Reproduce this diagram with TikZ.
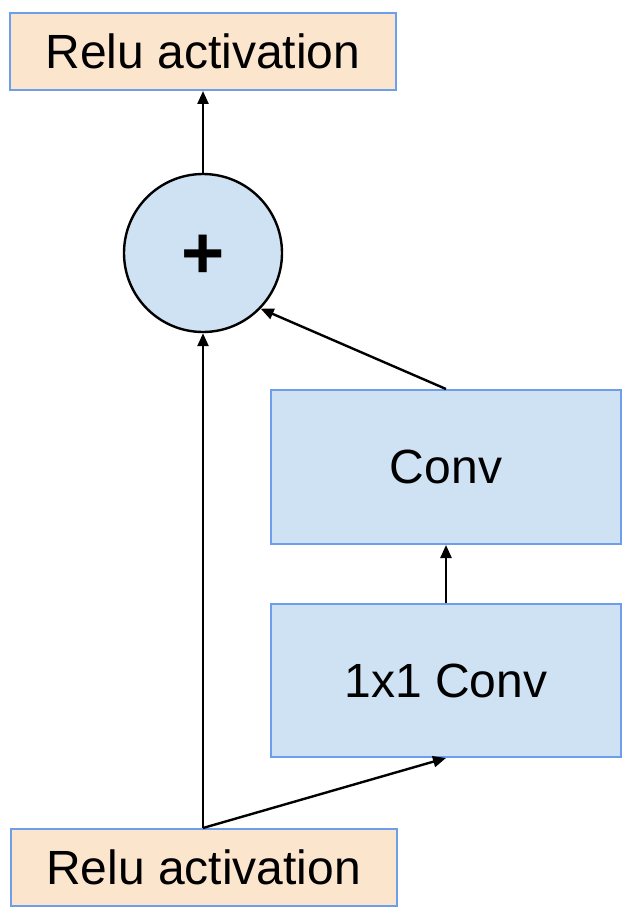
\documentclass[tikz,border=0pt]{standalone}
\usepackage{fontspec}
\setmainfont{Liberation Sans}
\usetikzlibrary{arrows.meta}
\definecolor{boxborder}{HTML}{6D9EEB}
\definecolor{orangefill}{HTML}{FCE5CD}
\definecolor{bluefill}{HTML}{CFE2F3}
\begin{document}
\begin{tikzpicture}[x=1pt,y=-1pt,
  relubox/.style={draw=boxborder,fill=orangefill,line width=2pt,minimum width=386pt,minimum height=77pt,inner sep=0pt,font=\fontsize{48}{56}\selectfont},
  convbox/.style={draw=boxborder,fill=bluefill,line width=2pt,minimum width=350pt,minimum height=154pt,inner sep=0pt,font=\fontsize{48}{56}\selectfont},
  addnode/.style={circle,draw=black,fill=bluefill,line width=2.4pt,minimum size=158pt,inner sep=0pt,font=\bfseries\fontsize{74}{80}\selectfont},
  conn/.style={line width=2.4pt,-{Triangle[length=13pt,width=11pt]}}]
\useasboundingbox (0,0) rectangle (638,923);
\node[relubox] (top) at (203,51.5) {Relu activation};
\node[relubox] (bottom) at (203.5,867.5) {Relu activation};
\node[addnode] (plus) at (203,253) {\raisebox{-4pt}[\height][\depth]{+}};
\node[convbox] (conv) at (446,467) {Conv};
\node[convbox,minimum height=153pt] (conv1) at (446,680.5) {1x1 Conv};
\draw[conn] (plus.north) -- (top.south);
\draw[conn] (bottom.north -| plus.south) -- (plus.south);
\draw[conn] (conv.north) -- (plus.-44);
\draw[conn] (conv1.north) -- (conv.south);
\draw[conn] (bottom.north -| plus.south) -- (conv1.south);
\end{tikzpicture}
\end{document}
